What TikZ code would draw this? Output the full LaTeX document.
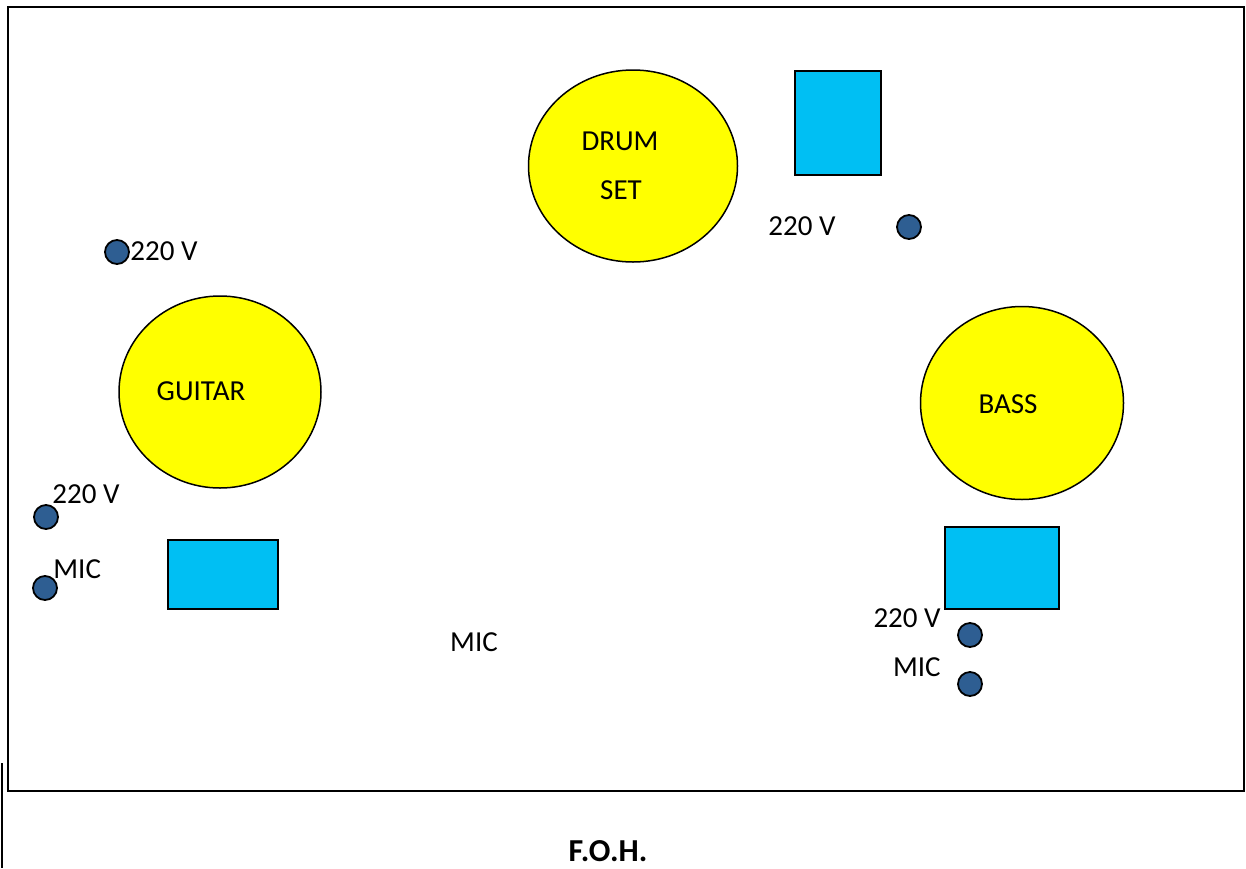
\documentclass[tikz,border=0pt]{standalone}
\usepackage{fontspec}
\setmainfont{Carlito}
\usetikzlibrary{shapes.geometric}

\definecolor{padyellow}{RGB}{255,255,0}
\definecolor{ampcyan}{RGB}{0,191,243}
\definecolor{plugblue}{RGB}{46,94,146}

\begin{document}
\begin{tikzpicture}[
    x = 0.5pt, y = -0.5pt,
    kit/.style  = {
      ellipse, draw = black, line width = 0.75pt, fill = padyellow,
      inner sep = 0pt, align = center
    },
    amp/.style  = {
      rectangle, draw = black, line width = 0.75pt, fill = ampcyan,
      inner sep = 0pt
    },
    plug/.style = {
      circle, draw = black, line width = 0.9pt, fill = plugblue,
      minimum size = 12pt, inner sep = 0pt
    },
    tag/.style  = {inner sep = 0pt, font = \fontsize{14.5}{17}\selectfont}
  ]
    \useasboundingbox (0,0) rectangle (1246,868);

    % ── Stage frame ──────────────────────────────────────────────────────────
    \draw[line width = 1pt] (8,7) rectangle (1244,791);
    \draw[line width = 1pt] (1.5,763) -- (1.5,868);

    % ── Instruments ──────────────────────────────────────────────────────────
    \node[kit, minimum width = 104.5pt, minimum height = 96pt] (drums)  at (633,166) {};
    \node[kit, minimum width = 101pt,   minimum height = 96pt] (guitar) at (220,392) {};
    \node[kit, minimum width = 101.5pt, minimum height = 96.5pt] (bass) at (1022,403) {};
    \node[tag] (drumsA) at (620,141) {DRUM};
    \node[tag] (drumsB) at (621,190) {SET};
    \node[tag] (guitarT) at (201,391) {GUITAR};
    \node[tag] (bassT)   at (1008,404) {BASS};

    % ── Amps ─────────────────────────────────────────────────────────────────
    \node[amp, minimum width = 43pt, minimum height = 52pt]   (drumAmp)   at (838,123) {};
    \node[amp, minimum width = 55pt, minimum height = 34.5pt] (guitarAmp) at (223,574.5) {};
    \node[amp, minimum width = 57pt, minimum height = 41pt]   (bassAmp)   at (1002,568) {};

    % ── Power and mic points ─────────────────────────────────────────────────
    \node[plug] (pwrGtrTop) at (117,252) {};
    \node[plug] (pwrGtr)    at (46,517) {};
    \node[plug] (micGtr)    at (45,588) {};
    \node[plug] (pwrDrum)   at (909,227) {};
    \node[plug] (pwrBass)   at (970,635) {};
    \node[plug] (micBass)   at (970,684) {};

    \node[tag, anchor = west] (pwrGtrTopT) at (130,251) {220 V};
    \node[tag, anchor = west] (pwrGtrT)    at (52,494)  {220 V};
    \node[tag, anchor = west] (micGtrT)    at (53,569)  {MIC};
    \node[tag, anchor = west] (pwrDrumT)   at (768,226) {220 V};
    \node[tag, anchor = east] (pwrBassT)   at (941,618) {220 V};
    \node[tag, anchor = east] (micBassT)   at (941,667) {MIC};
    \node[tag] (micCenter) at (474,642) {MIC};

    % ── Front of house ───────────────────────────────────────────────────────
    \node[tag, font = \fontsize{16}{19}\selectfont\bfseries] (foh) at (608,851) {F.O.H.};
  \end{tikzpicture}
\end{document}
